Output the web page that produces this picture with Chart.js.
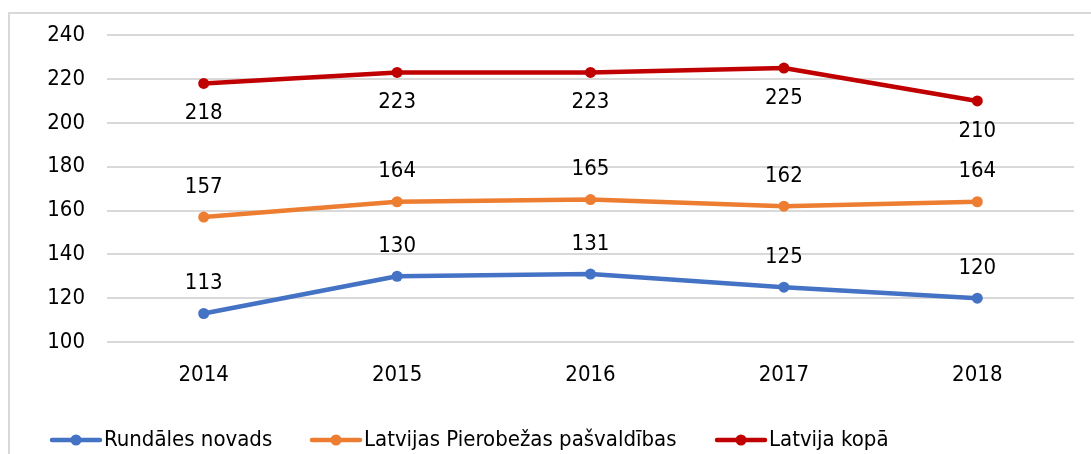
<!DOCTYPE html>
<html>
<head>
<meta charset="utf-8">
<script src="https://cdn.jsdelivr.net/npm/chart.js@4/dist/chart.umd.min.js"></script>
<style>
  html, body { margin: 0; padding: 0; background: #fff; }
  #wrap { width: 1091px; height: 454px; position: relative; }
</style>
</head>
<body>
<div id="wrap"><canvas id="c"></canvas></div>
<script>
const categories = ['2014', '2015', '2016', '2017', '2018'];
const seriesNames = ['Rundāles novads', 'Latvijas Pierobežas pašvaldības', 'Latvija kopā'];
const rundale = [113, 130, 131, 125, 120];
const pierobeza = [157, 164, 165, 162, 164];
const latvija = [218, 223, 223, 225, 210];
const seriesColors = ['#4472C4', '#ED7D31', '#C00000'];
const labelBelow = [false, false, true];
const yMin = 100, yMax = 240, yStep = 20;

const FONT = '"DejaVu Sans Condensed", "DejaVu Sans", sans-serif';
const FSIZE = 22;

const borderPlugin = {
  id: 'frame',
  beforeDraw(chart) {
    const ctx = chart.ctx;
    ctx.save();
    ctx.fillStyle = '#fff';
    ctx.fillRect(0, 0, chart.width, chart.height);
    ctx.strokeStyle = '#D9D9D9';
    ctx.lineWidth = 2;
    ctx.strokeRect(9, 13, chart.width + 20, chart.height + 20);
    ctx.restore();
  }
};

const labelPlugin = {
  id: 'valueLabels',
  afterDatasetsDraw(chart) {
    const ctx = chart.ctx;
    ctx.save();
    ctx.font = FSIZE + 'px ' + FONT;
    ctx.fillStyle = '#000';
    ctx.textAlign = 'center';
    ctx.textBaseline = 'middle';
    chart.data.datasets.forEach((ds, i) => {
      const meta = chart.getDatasetMeta(i);
      meta.data.forEach((pt, j) => {
        const dy = labelBelow[i] ? 30 : -30;
        ctx.fillText(String(ds.data[j]), pt.x, pt.y + dy);
      });
    });
    ctx.restore();
  }
};

const legendPlugin = {
  id: 'customLegend',
  afterDraw(chart) {
    const ctx = chart.ctx;
    const starts = [52, 312, 717];
    const y = 440;
    ctx.save();
    ctx.font = FSIZE + 'px ' + FONT;
    ctx.textBaseline = 'middle';
    ctx.textAlign = 'left';
    chart.data.datasets.forEach((ds, i) => {
      const x = starts[i];
      ctx.strokeStyle = ds.borderColor;
      ctx.lineWidth = 4.5;
      ctx.lineCap = 'round';
      ctx.beginPath();
      ctx.moveTo(x, y);
      ctx.lineTo(x + 48, y);
      ctx.stroke();
      ctx.fillStyle = ds.borderColor;
      ctx.beginPath();
      ctx.arc(x + 24, y, 5.5, 0, Math.PI * 2);
      ctx.fill();
      ctx.fillStyle = '#000';
      ctx.fillText(ds.label, x + 52, y);
    });
    ctx.restore();
  }
};

const datasets = [rundale, pierobeza, latvija].map((d, i) => ({
  label: seriesNames[i],
  data: d,
  borderColor: seriesColors[i],
  backgroundColor: seriesColors[i],
  borderWidth: 4.5,
  pointRadius: 5.5,
  pointHoverRadius: 5.5,
  pointBorderWidth: 0,
  tension: 0,
  borderCapStyle: 'round',
  borderJoinStyle: 'round'
}));

new Chart(document.getElementById('c'), {
  type: 'line',
  data: { labels: categories, datasets },
  options: {
    responsive: true,
    maintainAspectRatio: false,
    animation: false,
    layout: { padding: { left: 0, top: 35, right: 17, bottom: 52 } },
    plugins: { legend: { display: false }, tooltip: { enabled: false } },
    scales: {
      x: {
        offset: true,
        grid: { display: false, drawTicks: false },
        border: { display: false },
        ticks: { color: '#000', font: { family: FONT, size: FSIZE }, padding: 20, maxRotation: 0 },
        afterFit(s) { s.height = 60; }
      },
      y: {
        min: yMin, max: yMax,
        grid: { color: '#D9D9D9', lineWidth: 2, drawTicks: false },
        border: { display: false },
        ticks: { stepSize: yStep, color: '#000', font: { family: FONT, size: FSIZE }, padding: 22 },
        afterFit(s) { s.width = 107; }
      }
    }
  },
  plugins: [borderPlugin, labelPlugin, legendPlugin]
});
</script>
</body>
</html>
